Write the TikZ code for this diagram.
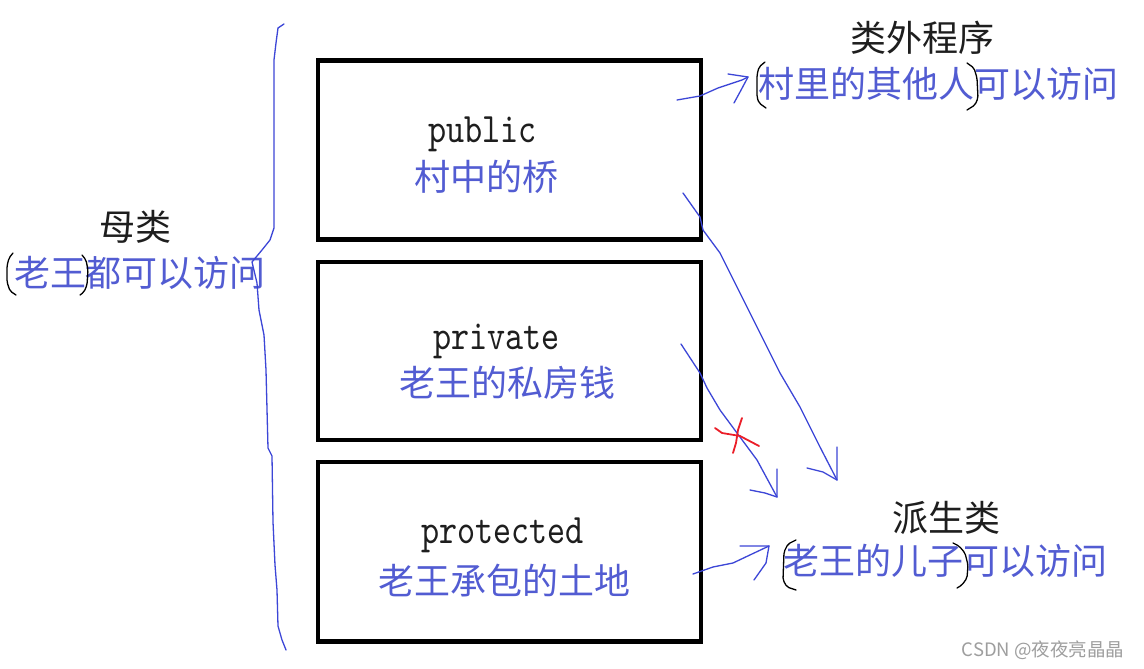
\documentclass[tikz,border=0pt]{standalone}
\usepackage{fontspec}
\newfontfamily\cjk{Noto Sans CJK SC}
\newfontfamily\codefont{lmmono10-regular.otf}[FakeStretch=0.82]
\definecolor{txtblue}{RGB}{82,92,210}
\definecolor{inkblue}{RGB}{60,70,215}
\definecolor{inkred}{RGB}{235,30,40}
\definecolor{labelblack}{RGB}{30,30,30}
\begin{document}
\begin{tikzpicture}[x=1pt,y=-1pt,
  box/.style={draw=black,line width=4.5pt,inner sep=0pt,outer sep=0pt},
  code/.style={font=\codefont\fontsize{42}{42}\selectfont,text=labelblack,inner sep=0pt,anchor=base},
  cn/.style={font=\cjk\fontsize{36}{36}\selectfont,text=txtblue,inner sep=0pt},
  title/.style={font=\cjk\fontsize{36}{36}\selectfont,text=labelblack,inner sep=0pt},
  ink/.style={draw=inkblue,line width=1.3pt,line join=round,line cap=round},
  redink/.style={draw=inkred,line width=1.8pt,line join=round,line cap=round},
  paren/.style={draw=black,line width=1.3pt,line cap=round,line join=round,rounded corners=2pt},
]
\useasboundingbox[fill=white] (0,0) rectangle (1144,669);

% boxes
\node[box,minimum width=383,minimum height=179] (pubbox) at (509.5,150) {};
\node[box,minimum width=383,minimum height=178] (pribox) at (509.5,351) {};
\node[box,minimum width=383,minimum height=179.5] (probox) at (509.5,551.75) {};

% box texts
\node[code] (pubkw) at (482.5,142) {public};
\node[cn] (pubcn) at (486.5,177) {村中的桥};
\node[code] (prikw) at (496.5,349) {private};
\node[cn] (pricn) at (507.5,382.5) {老王的私房钱};
\node[code] (prokw) at (502.5,543) {protected};
\node[cn] (procn) at (504,581) {老王承包的土地};

% side labels
\node[title] (outt) at (922.5,38) {类外程序};
\node[cn] (outd) at (938.5,83.5) {村里的其他人可以访问};
\node[title] (part) at (135,226.5) {母类};
\node[cn] (pard) at (140,272.5) {老王都可以访问};
\node[title] (dert) at (946.5,518) {派生类};
\node[cn] (derd) at (945,561) {老王的儿子可以访问};
\node[font=\cjk\fontsize{18.5}{18.5}\selectfont,text=black!38,inner sep=0pt] (wm) at (1043,650) {CSDN @夜夜亮晶晶};

% left brace
\draw[ink] (284,24) -- (278,28) -- (276,43) -- (274,60) -- (274,228) -- (270,240) -- (262,250) -- (252,262)
  -- (257,283) -- (259,310) -- (264,335) -- (266,370) -- (268,448) -- (272,456) -- (273,522)
  -- (275,565) -- (277,590) -- (278,626) -- (282,640) -- (286,650);

% hand-drawn parentheses
\draw[paren] (765,62) -- (759,67) -- (757,75) -- (757,97) -- (759,103) -- (766,108);
\draw[paren] (967,63) -- (974,68) -- (977,78) -- (978,98) -- (975,105) -- (967,110);
\draw[paren] (13,253) -- (9,258) -- (7,266) -- (7,282) -- (10,291) -- (16,295);
\draw[paren] (82,255) -- (86,260) -- (88,270) -- (87,285) -- (84,292) -- (80,295);
\draw[paren] (796,540) -- (788,544) -- (784,552) -- (783,580) -- (787,587) -- (796,590);
\draw[paren] (953,543) -- (959,546) -- (965,553) -- (968,565) -- (967,578) -- (962,585) -- (957,588);

% arrow to outside program
\coordinate (a1s) at (677,100);
\coordinate (a1t) at (748,77);
\draw[ink] (a1s) -- (700,96) -- (718,88) -- (742,80) -- (a1t);
\draw[ink] (728,74) -- (a1t) -- (740,92) -- (734,103);

% arrow to derived class
\coordinate (a2s) at (693,574);
\coordinate (a2t) at (769,546);
\draw[ink] (a2s) -- (713,567) -- (733,563) -- (752,554) -- (a2t);
\draw[ink] (740,546) -- (a2t) -- (766,563) -- (754,580);

% long diagonal (public -> derived)
\coordinate (a3s) at (683,193);
\coordinate (a3t) at (837,480);
\draw[ink] (a3s) -- (700,217) -- (703,230) -- (720,253) -- (740,293) -- (760,333) -- (780,373) -- (800,407) -- (820,447) -- (a3t);
\draw[ink] (807,468) -- (823,472) -- (a3t) -- (837,447);

% private diagonal (crossed out)
\coordinate (a4s) at (681,344);
\coordinate (a4t) at (777,497);
\draw[ink] (a4s) -- (700,373) -- (707,388) -- (720,410) -- (737,433) -- (757,460) -- (a4t);
\draw[ink] (750,490) -- (765,493) -- (a4t) -- (777,469);

% red cross
\draw[redink] (715,428) -- (722,433) -- (740,436) -- (759,446);
\draw[redink] (742,418) -- (738,430) -- (736,443) -- (733,453);
\end{tikzpicture}
\end{document}
